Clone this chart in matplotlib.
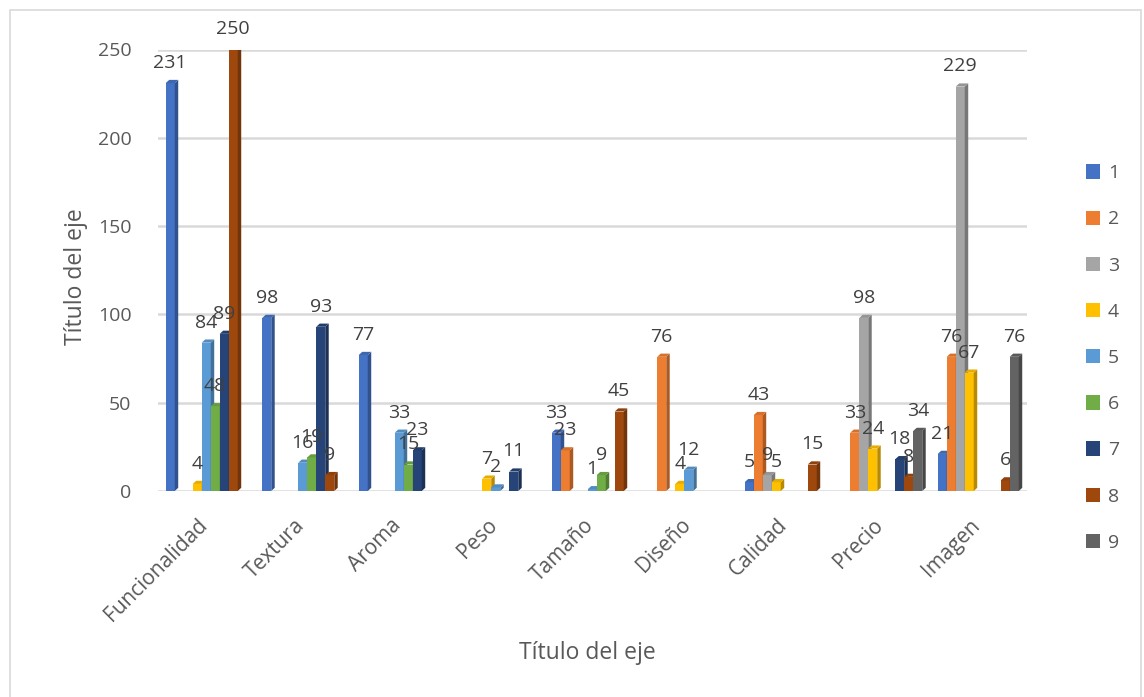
import matplotlib
matplotlib.use("Agg")
import matplotlib.pyplot as plt
import matplotlib.colors as mcolors
from matplotlib.patches import Polygon, Rectangle, Patch
from matplotlib.transforms import ScaledTranslation
import numpy as np

nan = np.nan

categorias = ["Funcionalidad", "Textura", "Aroma", "Peso", "Tamaño",
              "Diseño", "Calidad", "Precio", "Imagen"]
series = ["1", "2", "3", "4", "5", "6", "7", "8", "9"]

s1 = [231, 98, 77, nan, 33, nan, 5, nan, 21]
s2 = [nan, nan, nan, nan, 23, 76, 43, 33, 76]
s3 = [nan, nan, nan, nan, nan, nan, 9, 98, 229]
s4 = [4, nan, nan, 7, nan, 4, 5, 24, 67]
s5 = [84, 16, 33, 2, 1, 12, nan, nan, nan]
s6 = [48, 19, 15, nan, 9, nan, nan, nan, nan]
s7 = [89, 93, 23, 11, nan, nan, nan, 18, nan]
s8 = [250, 9, nan, nan, 45, nan, 15, 8, 6]
s9 = [nan, nan, nan, nan, nan, nan, nan, 34, 76]
valores = [s1, s2, s3, s4, s5, s6, s7, s8, s9]

colores = ["#4472C4", "#ED7D31", "#A5A5A5", "#FFC000", "#5B9BD5",
           "#70AD47", "#264478", "#9E480E", "#636363"]

gris_texto = "#595959"
gris_linea = "#D9D9D9"
fs = 14          # numbers
fs_cat = 15      # category names
fs_tit = 16.5    # axis titles

plt.rcParams["font.family"] = ["Open Sans", "DejaVu Sans"]

W, H = 1144, 697
fig = plt.figure(figsize=(W / 100, H / 100), dpi=100)
ax = fig.add_axes([158 / W, 1 - 491 / H, 868.5 / W, 441.5 / H])

# chart border
fig.patches.append(Rectangle((10 / W, -0.01), 1131 / W, 1 - 10 / H + 0.01,
                             transform=fig.transFigure, fill=False,
                             edgecolor=gris_linea, linewidth=1.2))

x = np.arange(len(categorias))
w = 9 / 96.5
dx, dy = 0.036, 1.8  # depth of the fake 3d faces, data units


def oscurecer(c, f):
    r, g, b = mcolors.to_rgb(c)
    return (r * f, g * f, b * f)


for j, (vals, col) in enumerate(zip(valores, colores)):
    pos = x + (j - 4) * w
    barras = ax.bar(pos, np.nan_to_num(vals), width=w, color=col,
                    linewidth=0, zorder=3)
    for b, v in zip(barras, vals):
        if np.isnan(v):
            b.set_visible(False)
            continue
        x0, x1, h = b.get_x(), b.get_x() + b.get_width(), b.get_height()
        lado = Polygon([(x1, 0), (x1 + dx, dy), (x1 + dx, h + dy), (x1, h)],
                       closed=True, facecolor=oscurecer(col, 0.72),
                       linewidth=0, zorder=3)
        tapa = Polygon([(x0, h), (x0 + dx, h + dy), (x1 + dx, h + dy), (x1, h)],
                       closed=True, facecolor=oscurecer(col, 0.9),
                       linewidth=0, zorder=3)
        ax.add_patch(lado)
        ax.add_patch(tapa)
        ax.annotate(f"{v:g}", (b.get_x() + b.get_width() / 2, h),
                    xytext=(0, 8), textcoords="offset points",
                    ha="center", va="bottom", fontsize=fs,
                    color="#404040", zorder=5, annotation_clip=False)

ax.set_xlim(-0.5, len(categorias) - 0.5)
ax.set_ylim(0, 250)
ax.set_yticks(np.arange(0, 251, 50))
ax.yaxis.grid(True, color=gris_linea, linewidth=1.8, zorder=0)
ax.set_axisbelow(True)
for s in ax.spines.values():
    s.set_visible(False)

ax.tick_params(axis="y", length=0, pad=19, labelsize=fs, labelcolor=gris_texto)
ax.tick_params(axis="x", length=0, pad=17, labelsize=fs_cat, labelcolor=gris_texto)
ax.set_xticks(x)
ax.set_xticklabels(categorias, rotation=45, ha="right", rotation_mode="anchor")
desplaza = ScaledTranslation(-9 / 100, 0, fig.dpi_scale_trans)
for lab in ax.get_xticklabels():
    lab.set_transform(lab.get_transform() + desplaza)

ax.set_xlabel("Título del eje", fontsize=fs_tit, color=gris_texto)
ax.set_ylabel("Título del eje", fontsize=fs_tit, color=gris_texto)
ax.xaxis.set_label_coords(0.494, -0.34)
ax.yaxis.set_label_coords(-0.081, 0.485)

handles = [Patch(facecolor=c, edgecolor="none") for c in colores]
fig.legend(handles, series, loc="center left",
           bbox_to_anchor=(1068 / W, 1 - 358 / H), frameon=False,
           fontsize=fs, labelcolor=gris_texto, handlelength=0.75,
           handleheight=0.75, handletextpad=0.4, labelspacing=1.45)

fig.savefig("out.png", dpi=100)
